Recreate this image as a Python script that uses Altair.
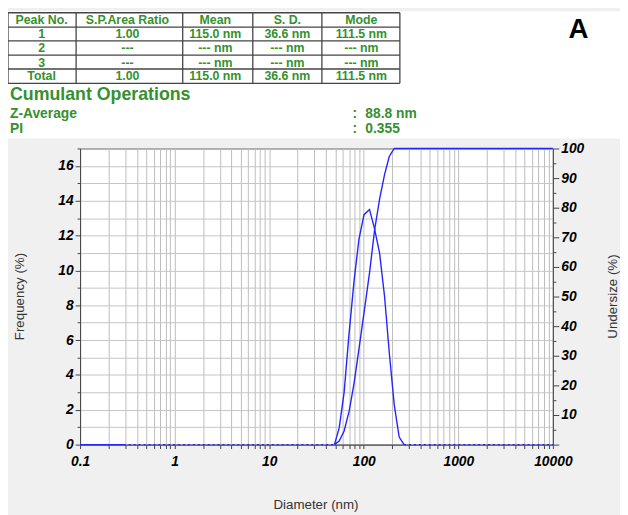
import altair as alt
import pandas as pd

# ---------------- data ----------------
freq_d = [49, 55, 62, 70, 79, 89, 100.7, 115, 130, 147, 166, 186, 210, 237, 267]
freq_v = [0, 0.96, 3.0, 6.4, 9.4, 11.8, 13.2, 13.5, 12.4, 11.0, 8.5, 5.3, 2.3, 0.43, 0]
cum_d = [49, 55, 62, 70, 79, 89, 100.7, 115, 130, 147, 166, 186, 210, 10000]
cum_v = [0, 1.2, 4.6, 11.2, 20.7, 32.3, 44.6, 57.9, 72.3, 82.9, 91.2, 97.3, 100, 100]
zero_solid_d = [0.1, 0.29]
zero_dot_a_d = [0.29, 49]
zero_dot_b_d = [267, 10000]

x_ticks = [round(m * 10 ** e, 6) for e in range(-1, 4) for m in range(1, 10)] + [10000]
freq_ticks = list(range(0, 18))
cum_ticks = list(range(0, 101, 5))

table_headers = ["Peak No.", "S.P.Area Ratio", "Mean", "S. D.", "Mode"]
table_rows = [
    ["1", "1.00", "115.0 nm", "36.6 nm", "111.5 nm"],
    ["2", "---", "--- nm", "--- nm", "--- nm"],
    ["3", "---", "--- nm", "--- nm", "--- nm"],
    ["Total", "1.00", "115.0 nm", "36.6 nm", "111.5 nm"],
]
cumulant_title = "Cumulant Operations"
cumulant_labels = ["Z-Average", "PI"]
cumulant_values = ["88.8 nm", "0.355"]
panel_letter = "A"

# ---------------- layout ----------------
W, H = 479, 300
PADL, PADT, PADR, PADB = 73, 139, 68, 68
OX, OY = 8 + PADL, 8 + PADT  # page coords of plot origin

def px(x):
    return x - OX

def py(y):
    return y - OY

GREEN = "#35902f"
BLUE = "#2424ff"
FONT = "Liberation Sans"

one = alt.Data(values=[{}])

def txt(x, y, s, size=12.5, color=GREEN, weight="bold", align="center",
        baseline="middle", angle=0, style="normal"):
    return alt.Chart(one).mark_text(
        font=FONT, fontSize=size, fontWeight=weight, color=color, align=align,
        baseline=baseline, angle=angle, fontStyle=style
    ).encode(x=alt.value(px(x)), y=alt.value(py(y)), text=alt.value(s))

def rule(x1, y1, x2, y2, color="#444", width=1.3):
    return alt.Chart(one).mark_rule(color=color, strokeWidth=width).encode(
        x=alt.value(px(x1)), x2=alt.value(px(x2)),
        y=alt.value(py(y1)), y2=alt.value(py(y2)))

layers = []

# white top region (the rest of the chart background is gray)
layers.append(alt.Chart(one).mark_rect(color="white").encode(
    x=alt.value(-PADL), x2=alt.value(W + PADR),
    y=alt.value(-PADT), y2=alt.value(py(137))))

# ---------------- table ----------------
col_edges = [8, 77, 185, 256, 326, 405]
row_edges = [9.5, 24, 38, 52.5, 66.5, 81]
col_centers = [42, 129, 218, 291, 366]
row_centers = [16.8, 31, 45.5, 60, 74]
for xe in col_edges:
    layers.append(rule(xe, row_edges[0], xe, row_edges[-1]))
for ye in row_edges:
    layers.append(rule(col_edges[0], ye, col_edges[-1], ye))
for j, h in enumerate(table_headers):
    layers.append(txt(col_centers[j], row_centers[0], h))
for i, row in enumerate(table_rows):
    for j, v in enumerate(row):
        layers.append(txt(col_centers[j], row_centers[i + 1], v))

layers.append(txt(10, 98, cumulant_title, size=18, align="left", baseline="alphabetic"))
for k, (lab, val) in enumerate(zip(cumulant_labels, cumulant_values)):
    yb = [116, 131][k]
    layers.append(txt(10, yb, lab, size=14, align="left", baseline="alphabetic"))
    layers.append(txt(357, yb, ":", size=14, align="left", baseline="alphabetic"))
    layers.append(txt(370, yb, val, size=14, align="left", baseline="alphabetic"))

layers.append(txt(586, 35, panel_letter, size=28, color="black", baseline="alphabetic"))

# ---------------- scales & axes ----------------
xscale = alt.Scale(type="log", domain=[0.1, 10000], nice=False)
label_style = dict(labelFont=FONT, labelFontSize=14, labelFontWeight="bold",
                   labelFontStyle="italic", labelColor="black")

x_axis = alt.Axis(
    values=x_ticks, grid=True, gridColor="#bdbdbd", gridWidth=1,
    labelExpr="abs(log(datum.value)/LN10 - round(log(datum.value)/LN10)) < 0.001 ? format(datum.value, '~g') : ''",
    labelOverlap=False, labelFlush=False, labelPadding=6, tickSize=4,
    tickColor="#444", domainColor="#444", title=None, **label_style)

left_axis = alt.Axis(
    orient="left", values=freq_ticks, grid=True, gridColor="#c4c4c4", gridWidth=1,
    labelExpr="datum.value % 2 == 0 && datum.value < 17 ? datum.label : ''",
    labelOverlap=False, labelPadding=2,
    tickSize={"condition": {"test": "datum.value % 2 == 0", "value": 5}, "value": 3},
    tickColor="#444", domainColor="#444", title=None, **label_style)

right_axis = alt.Axis(
    orient="right", values=cum_ticks, grid=False,
    labelExpr="datum.value % 10 == 0 && datum.value > 0 ? datum.label : ''",
    labelOverlap=False, labelPadding=2,
    tickSize={"condition": {"test": "datum.value % 10 == 0", "value": 6}, "value": 3},
    tickColor="#444", domainColor="#444", title=None, **label_style)

X = alt.X("d:Q", scale=xscale, axis=x_axis)

freq_df = pd.DataFrame({"d": freq_d, "v": freq_v})
cum_df = pd.DataFrame({"d": cum_d, "v": cum_v})
zs = pd.DataFrame({"d": zero_solid_d, "v": [0, 0]})
za = pd.DataFrame({"d": zero_dot_a_d, "v": [0, 0]})
zb = pd.DataFrame({"d": zero_dot_b_d, "v": [0, 0]})

Yf = alt.Y("v:Q", scale=alt.Scale(domain=[0, 17], nice=False, zero=True), axis=left_axis)
freq_group = alt.layer(
    alt.Chart(freq_df).mark_line(color=BLUE, strokeWidth=1.4).encode(x=X, y=Yf),
    alt.Chart(zs).mark_line(color=BLUE, strokeWidth=1.4).encode(x=X, y=Yf),
    alt.Chart(za).mark_line(color=BLUE, strokeWidth=1.4, strokeDash=[2, 3]).encode(x=X, y=Yf),
    alt.Chart(zb).mark_line(color=BLUE, strokeWidth=1.4, strokeDash=[2, 3]).encode(x=X, y=Yf),
)

Yc = alt.Y("v:Q", scale=alt.Scale(domain=[0, 100], nice=False, zero=True), axis=right_axis)
cum_line = alt.Chart(cum_df).mark_line(color=BLUE, strokeWidth=1.4, clip=False).encode(x=X, y=Yc)

# axis titles
titles = [
    txt(20, 297, "Frequency (%)", size=13.5, color="#333", weight="normal", angle=270),
    txt(621, 297, "Undersize (%)", size=13.5, color="#333", weight="normal", angle=270),
    txt(320, 508, "Diameter (nm)", size=13.5, color="#333", weight="normal"),
]

chart = alt.layer(*layers, freq_group, cum_line, *titles).resolve_scale(
    y="independent"
).properties(
    width=W, height=H,
    padding={"left": PADL, "top": PADT, "right": PADR, "bottom": PADB},
    autosize=alt.AutoSizeParams(type="none"),
    background="#f0f0f0",
).configure_view(fill="white", stroke="#444", strokeWidth=1)

chart.save("out.html", embed_options={"renderer": "svg", "actions": False})
